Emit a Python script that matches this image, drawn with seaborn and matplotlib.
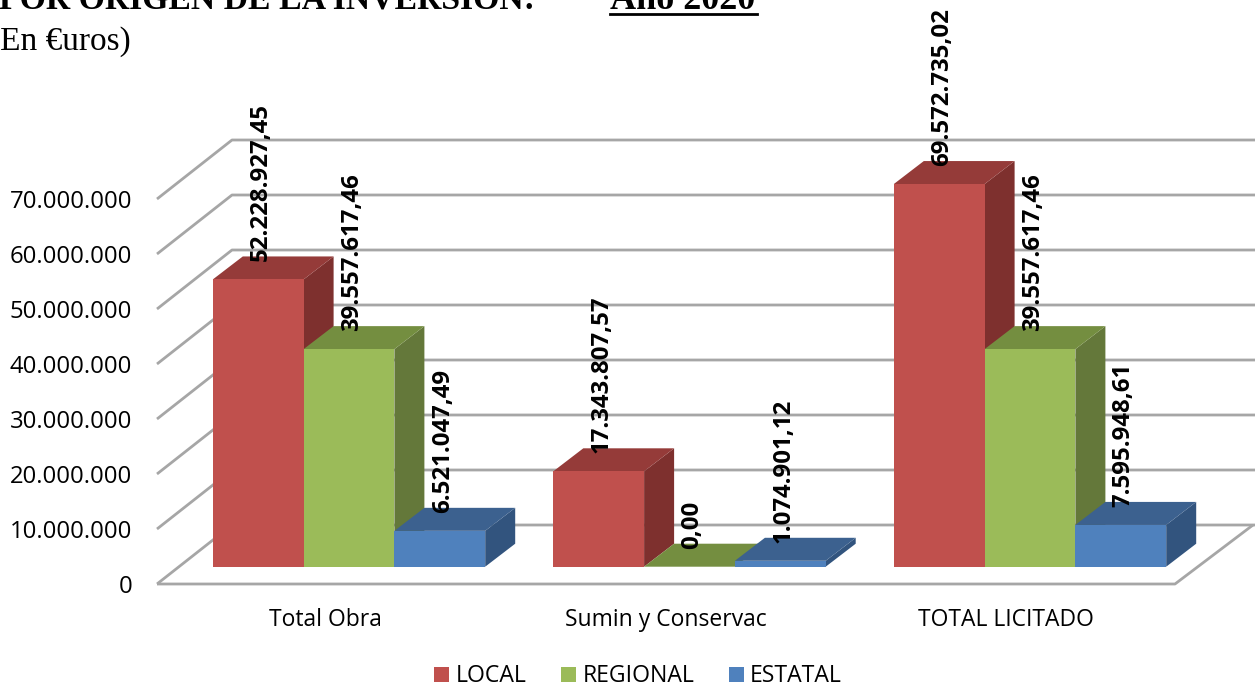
import pandas as pd
import matplotlib.pyplot as plt
import seaborn as sns
from matplotlib.lines import Line2D
from matplotlib.patches import Polygon

# Data
categories = ['Total Obra', 'Sumin y Conservac', 'TOTAL LICITADO']
local = [52228927.45, 17343807.57, 69572735.02]
regional = [39557617.46, 0.00, 39557617.46]
estatal = [6521047.49, 1074901.12, 7595948.61]
series_names = ['LOCAL', 'REGIONAL', 'ESTATAL']
y_ticks = [0, 10000000, 20000000, 30000000, 40000000, 50000000, 60000000, 70000000]

front_colors = ['#C0504D', '#9BBB59', '#4F81BD']
top_colors = ['#953B39', '#748E40', '#3C618F']
side_colors = ['#7E302E', '#64783A', '#32547E']

W, H = 1255, 686
PX_PER_CAT = 340.5
PX_PER_UNIT = 55 / 1e7
BASE_Y = 566.7   # foot of the bars
FLOOR_Y = 584    # front floor edge


def es_number(v, dec=2):
    s = f'{v:,.{dec}f}'
    return s.replace(',', '#').replace('.', ',').replace('#', '.')


df = pd.DataFrame({
    'categoria': categories * 3,
    'serie': [n for n in series_names for _ in categories],
    'valor': local + regional + estatal,
})

plt.rcParams['font.family'] = ['Open Sans', 'DejaVu Sans']
fig = plt.figure(figsize=(W / 100, H / 100), dpi=100, facecolor='white')

# Axes for the walls and the value ticks: zero sits on the front floor edge
ax_wall = fig.add_axes([157 / W, (H - FLOOR_Y) / H, (W - 157) / W, FLOOR_Y / H], zorder=0)
# Axes for the bars: zero sits at the foot of the bars
ax = fig.add_axes([157 / W, (H - BASE_Y) / H, (W - 157) / W, BASE_Y / H], zorder=1)
ax.patch.set_alpha(0)

sns.barplot(data=df, x='categoria', y='valor', hue='serie', palette=front_colors,
            hue_order=series_names, order=categories, width=0.8, gap=0, saturation=1,
            ax=ax, zorder=3)

xlim = ((157 - 349) / PX_PER_CAT, (W - 349) / PX_PER_CAT)
ax.set_xlim(xlim)
ax.set_ylim(0, BASE_Y / PX_PER_UNIT)
ax_wall.set_xlim(xlim)
ax_wall.set_ylim(0, FLOOR_Y / PX_PER_UNIT)

# Grid walls
x_front = xlim[0]
x_back = (232 - 349) / PX_PER_CAT
x_end = xlim[1]
rise = 59 / PX_PER_UNIT
grid_kw = dict(color='#A6A6A6', lw=2, clip_on=False, solid_capstyle='butt')
for v in y_ticks:
    ax_wall.plot([x_front, x_back, x_end], [v, v + rise, v + rise], **grid_kw)
ax_wall.plot([x_front, (1175 - 349) / PX_PER_CAT, (1253 - 349) / PX_PER_CAT],
             [0, 0, rise], **grid_kw)

# 3D faces on the bars, built from the seaborn rectangles
dx = 30 / PX_PER_CAT
dy = 23 / PX_PER_UNIT
for i, container in enumerate(ax.containers):
    for bar in container:
        x0 = bar.get_x()
        x1 = x0 + bar.get_width()
        h = bar.get_height()
        ax.add_patch(Polygon([(x1, 0), (x1 + dx, dy), (x1 + dx, h + dy), (x1, h)],
                             facecolor=side_colors[i], edgecolor='none', zorder=1, clip_on=False))
        ax.add_patch(Polygon([(x0, h), (x1, h), (x1 + dx, h + dy), (x0 + dx, h + dy)],
                             facecolor=top_colors[i], edgecolor='none', zorder=2, clip_on=False))
        ax.annotate(es_number(h), (x0 + bar.get_width() / 2, h), xytext=(2.2, 13),
                    textcoords='offset points', rotation=90, ha='center', va='bottom',
                    fontsize=17.3, fontweight='bold', color='black', zorder=5,
                    annotation_clip=False)

# Axis text: the category names sit left of their bar groups
ax.set_xlabel('')
ax.set_ylabel('')
ax.set_yticks([])
ax.set_xticks([i - 24 / PX_PER_CAT for i in range(len(categories))])
ax.set_xticklabels(categories)
ax.tick_params(axis='x', length=0, pad=30, labelsize=16.5, labelcolor='black')
for s in ax.spines.values():
    s.set_visible(False)

ax_wall.set_xticks([])
ax_wall.set_yticks(y_ticks)
ax_wall.set_yticklabels([es_number(v, 0) for v in y_ticks])
ax_wall.tick_params(axis='y', length=0, pad=18, labelsize=17.2, labelcolor='black')
for s in ax_wall.spines.values():
    s.set_visible(False)

# Legend
handles, labels = ax.get_legend_handles_labels()
ax.legend(handles, labels, ncol=3, loc='center', bbox_to_anchor=(638 / W, (H - 676.5) / H),
          bbox_transform=fig.transFigure, frameon=False, fontsize=16.6, handlelength=0.66,
          handleheight=0.66, handletextpad=0.27, columnspacing=1.5, borderpad=0)

# Heading cut by the top edge of the page
fig.text(535 / W, (H - 9) / H, 'POR ORIGEN DE LA INVERSIÓN:', ha='right', va='baseline',
         family='Liberation Serif', fontweight='bold', fontsize=24.3)
fig.text(610 / W, (H - 9) / H, 'Año 2020', ha='left', va='baseline',
         family='Liberation Serif', fontweight='bold', fontsize=26)
fig.add_artist(Line2D([610 / W, 757 / W], [(H - 13.5) / H] * 2, color='black', lw=2))
fig.text(-11 / W, (H - 50) / H, '(En €uros)', ha='left', va='baseline',
         family='Liberation Serif', fontsize=24)

fig.savefig('out.png', dpi=100)
